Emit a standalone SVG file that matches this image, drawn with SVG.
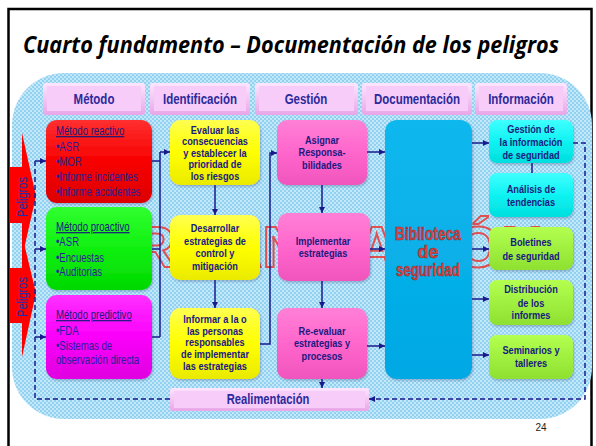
<svg xmlns="http://www.w3.org/2000/svg" width="596" height="446" viewBox="0 0 596 446">
<defs>
<pattern id="dots" width="4" height="4" patternUnits="userSpaceOnUse">
<rect width="4" height="4" fill="#92d2f0"/>
<rect x="0" y="0" width="2" height="2" fill="#c2e8f9"/>
<rect x="2" y="2" width="2" height="2" fill="#c2e8f9"/>
</pattern>
<linearGradient id="gHdr" x1="0" y1="0" x2="0" y2="1"><stop offset="0" stop-color="#fde6fd"/><stop offset="1" stop-color="#e8a6e8"/></linearGradient>
<linearGradient id="gRed" x1="0" y1="0" x2="0" y2="1"><stop offset="0" stop-color="#ff3030"/><stop offset="0.5" stop-color="#f80000"/><stop offset="1" stop-color="#dc0000"/></linearGradient>
<linearGradient id="gGrn" x1="0" y1="0" x2="0" y2="1"><stop offset="0" stop-color="#30ff30"/><stop offset="0.5" stop-color="#10f010"/><stop offset="1" stop-color="#00d800"/></linearGradient>
<linearGradient id="gMag" x1="0" y1="0" x2="0" y2="1"><stop offset="0" stop-color="#ff30ff"/><stop offset="0.5" stop-color="#fa00fa"/><stop offset="1" stop-color="#e000e0"/></linearGradient>
<linearGradient id="gYel" x1="0" y1="0" x2="0" y2="1"><stop offset="0" stop-color="#ffff50"/><stop offset="0.5" stop-color="#ffff00"/><stop offset="1" stop-color="#eaea00"/></linearGradient>
<linearGradient id="gPnk" x1="0" y1="0" x2="0" y2="1"><stop offset="0" stop-color="#ff80d6"/><stop offset="0.5" stop-color="#ff66cc"/><stop offset="1" stop-color="#f055bd"/></linearGradient>
<linearGradient id="gDoc" x1="0" y1="0" x2="0" y2="1"><stop offset="0" stop-color="#10b8ee"/><stop offset="1" stop-color="#00a8e4"/></linearGradient>
<linearGradient id="gCyn" x1="0" y1="0" x2="0" y2="1"><stop offset="0" stop-color="#40ffff"/><stop offset="0.5" stop-color="#10f2f2"/><stop offset="1" stop-color="#00dede"/></linearGradient>
<linearGradient id="gLim" x1="0" y1="0" x2="0" y2="1"><stop offset="0" stop-color="#b4ff50"/><stop offset="0.5" stop-color="#a0f040"/><stop offset="1" stop-color="#8ee030"/></linearGradient>
<marker id="ah" viewBox="0 0 6 6" refX="6" refY="3" markerWidth="6" markerHeight="6" markerUnits="userSpaceOnUse" orient="auto"><path d="M0,0 L6,3 L0,6 z" fill="#1a1a8c"/></marker>
<filter id="sh" x="-10%" y="-10%" width="120%" height="130%"><feDropShadow dx="1" dy="1.5" stdDeviation="1" flood-color="#336" flood-opacity="0.3"/></filter>
</defs>
<style>
text{font-family:'Liberation Sans',Arial,sans-serif}
.hdr rect.o{fill:url(#gHdr)}
.hdr rect.i{fill:#f8ccf8}
.hdr text{font-size:14px;font-weight:bold;fill:#2a2a9c;text-anchor:middle}
.lst text{font-size:12px;fill:#2a1f9a}
.lst text.u{text-decoration:underline;fill:#1a1a7a}
.ctr text{font-size:11.5px;font-weight:bold;fill:#1a1a80;text-anchor:middle}
.box{filter:url(#sh)}
.cn{fill:none;stroke:#1a1a8c;stroke-width:1.5}
.dn{fill:none;stroke:#1a1a8c;stroke-width:1.5;stroke-dasharray:5 3}
.pel{font-size:14px;fill:#2030b0;text-anchor:middle}
</style>
<rect x="0" y="0" width="596" height="446" fill="#ffffff"/>
<rect x="8.5" y="9" width="583" height="460" fill="none" stroke="#000" stroke-width="2.5"/>
<text x="23" y="53" style="font-family:'Open Sans','Liberation Sans',sans-serif" font-style="italic" font-weight="bold" font-size="23" textLength="536" lengthAdjust="spacingAndGlyphs" fill="#000">Cuarto fundamento – Documentación de los peligros</text>

<rect x="12" y="73" width="580" height="346" rx="52" ry="52" fill="url(#dots)"/>

<text x="88" y="267" font-size="58" font-weight="bold" fill="none" stroke="#e05050" stroke-width="2" textLength="455" lengthAdjust="spacingAndGlyphs">ORGANIZACIÓN</text>

<g id="peligros1"><polygon points="10,167 22,167 22,133 36,196 22,258 22,223 10,223" fill="#ff0000"/><text class="pel" transform="translate(27,197) rotate(-90)" x="0" y="0" textLength="40" lengthAdjust="spacingAndGlyphs">Peligros</text></g>
<g id="peligros2"><polygon points="10,268 22,268 22,235 36,293 22,357 22,323 10,323" fill="#ff0000"/><text class="pel" transform="translate(27,297) rotate(-90)" x="0" y="0" textLength="40" lengthAdjust="spacingAndGlyphs">Peligros</text></g>

<g id="h-metodo" class="hdr"><rect class="o" x="43" y="83" width="102" height="32" rx="3"/><rect class="i" x="47" y="86" width="94" height="25"/><text transform="translate(94,0) scale(0.82,1)" x="0" y="104.5">Método</text></g>
<g id="h-ident" class="hdr"><rect class="o" x="150" y="83" width="100" height="32" rx="3"/><rect class="i" x="154" y="86" width="92" height="25"/><text transform="translate(200,0) scale(0.82,1)" x="0" y="104.5">Identificación</text></g>
<g id="h-gestion" class="hdr"><rect class="o" x="255" y="83" width="103" height="32" rx="3"/><rect class="i" x="259" y="86" width="95" height="25"/><text transform="translate(306,0) scale(0.82,1)" x="0" y="104.5">Gestión</text></g>
<g id="h-doc" class="hdr"><rect class="o" x="362" y="83" width="110" height="32" rx="3"/><rect class="i" x="366" y="86" width="102" height="25"/><text transform="translate(417,0) scale(0.82,1)" x="0" y="104.5">Documentación</text></g>
<g id="h-info" class="hdr"><rect class="o" x="475" y="83" width="92" height="32" rx="3"/><rect class="i" x="479" y="86" width="84" height="25"/><text transform="translate(521,0) scale(0.82,1)" x="0" y="104.5">Información</text></g>

<g id="connectors">
<path class="cn" d="M152,161 H160 M152,249 H160 M152,337 H160 M160,337 V152"/>
<path class="cn" d="M160,152 H170" marker-end="url(#ah)"/>
<path class="cn" d="M215,185 V215" marker-end="url(#ah)"/>
<path class="cn" d="M215,280 V308" marker-end="url(#ah)"/>
<path class="cn" d="M260,344 H270 V153 H277" marker-end="url(#ah)"/>
<path class="cn" d="M322,185 V213" marker-end="url(#ah)"/>
<path class="cn" d="M322,281 V308" marker-end="url(#ah)"/>
<path class="cn" d="M322,379 V388" marker-end="url(#ah)"/>
<path class="cn" d="M367,152 H385" marker-end="url(#ah)"/>
<path class="cn" d="M370,249 H385" marker-end="url(#ah)"/>
<path class="cn" d="M367,346 H385" marker-end="url(#ah)"/>
<path class="cn" d="M472,143 H489" marker-end="url(#ah)"/>
<path class="cn" d="M472,249 H489" marker-end="url(#ah)"/>
<path class="cn" d="M472,299 H489" marker-end="url(#ah)"/>
<path class="cn" d="M472,355 H489" marker-end="url(#ah)"/>
<path class="cn" d="M532,163 V173"/>
<path class="dn" d="M573,143 H585 V399 H369" marker-end="url(#ah)"/>
<path class="dn" d="M170,399 H35 V161"/>
<path class="dn" d="M35,161 H46" marker-end="url(#ah)"/>
<path class="dn" d="M35,249 H46" marker-end="url(#ah)"/>
<path class="dn" d="M35,337 H46" marker-end="url(#ah)"/>
</g>

<g id="reactivo" class="lst"><rect class="box" x="46" y="120" width="106" height="83" rx="11" fill="url(#gRed)"/>
<g transform="translate(56,0) scale(0.8,1)"><text class="u" x="0" y="135">Método reactivo</text><text x="0" y="151">•ASR</text><text x="0" y="166">•MOR</text><text x="0" y="181.5">•Informe incidentes</text><text x="0" y="196.5">•Informe accidentes</text></g></g>
<g id="proactivo" class="lst"><rect class="box" x="46" y="207" width="106" height="83" rx="11" fill="url(#gGrn)"/>
<g transform="translate(56,0) scale(0.8,1)"><text class="u" x="0" y="231">Método proactivo</text><text x="0" y="246.5">•ASR</text><text x="0" y="262">•Encuestas</text><text x="0" y="276.5">•Auditorias</text></g></g>
<g id="predictivo" class="lst"><rect class="box" x="46" y="295" width="106" height="84" rx="11" fill="url(#gMag)"/>
<g transform="translate(56,0) scale(0.8,1)"><text class="u" x="0" y="319">Método predictivo</text><text x="0" y="335">•FDA</text><text x="0" y="350">•Sistemas de</text><text x="0" y="364">observación directa</text></g></g>

<g id="evaluar" class="ctr"><rect class="box" x="170" y="120" width="90" height="65" rx="10" fill="url(#gYel)"/>
<g transform="translate(215,0) scale(0.8,1)"><text x="0" y="134">Evaluar las</text><text x="0" y="145.5">consecuencias</text><text x="0" y="157">y establecer la</text><text x="0" y="168.5">prioridad de</text><text x="0" y="180">los riesgos</text></g></g>
<g id="desarrollar" class="ctr"><rect class="box" x="170" y="215" width="90" height="65" rx="10" fill="url(#gYel)"/>
<g transform="translate(215,0) scale(0.8,1)"><text x="0" y="232.5">Desarrollar</text><text x="0" y="245">estrategias de</text><text x="0" y="257.5">control y</text><text x="0" y="270">mitigación</text></g></g>
<g id="informar" class="ctr"><rect class="box" x="170" y="308" width="90" height="71" rx="10" fill="url(#gYel)"/>
<g transform="translate(215,0) scale(0.8,1)"><text x="0" y="323">Informar a la o</text><text x="0" y="334.7">las personas</text><text x="0" y="346.4">responsables</text><text x="0" y="358">de implementar</text><text x="0" y="369.7">las estrategias</text></g></g>

<g id="asignar" class="ctr"><rect class="box" x="277" y="120" width="90" height="65" rx="10" fill="url(#gPnk)"/>
<g transform="translate(322,0) scale(0.8,1)"><text x="0" y="144">Asignar</text><text x="0" y="156.5">Responsa-</text><text x="0" y="169">bilidades</text></g></g>
<g id="implementar" class="ctr"><rect class="box" x="278" y="213" width="92" height="68" rx="10" fill="url(#gPnk)"/>
<g transform="translate(323,0) scale(0.8,1)"><text x="0" y="245">Implementar</text><text x="0" y="257.5">estrategias</text></g></g>
<g id="reevaluar" class="ctr"><rect class="box" x="277" y="308" width="90" height="71" rx="10" fill="url(#gPnk)"/>
<g transform="translate(322,0) scale(0.8,1)"><text x="0" y="335">Re-evaluar</text><text x="0" y="347.5">estrategias y</text><text x="0" y="360">procesos</text></g></g>

<g id="biblioteca"><rect class="box" x="385" y="120" width="87" height="259" rx="12" fill="url(#gDoc)"/>
<g font-size="18" font-weight="bold" fill="#e04848" stroke="#8a2a2a" stroke-width="0.6" text-anchor="middle">
<text x="428" y="240" textLength="66" lengthAdjust="spacingAndGlyphs">Biblioteca</text><text x="428" y="258">de</text><text x="428" y="276" textLength="64" lengthAdjust="spacingAndGlyphs">seguridad</text></g></g>

<g id="gestion-info" class="ctr"><rect class="box" x="489" y="120" width="84" height="43" rx="8" fill="url(#gCyn)"/>
<g transform="translate(531,0) scale(0.8,1)"><text x="0" y="133">Gestión de</text><text x="0" y="146">la información</text><text x="0" y="159">de seguridad</text></g></g>
<g id="analisis" class="ctr"><rect class="box" x="489" y="173" width="84" height="44" rx="8" fill="url(#gCyn)"/>
<g transform="translate(531,0) scale(0.8,1)"><text x="0" y="193">Análisis de</text><text x="0" y="206.5">tendencias</text></g></g>
<g id="boletines" class="ctr"><rect class="box" x="489" y="227" width="84" height="43" rx="8" fill="url(#gLim)"/>
<g transform="translate(531,0) scale(0.8,1)"><text x="0" y="246.5">Boletines</text><text x="0" y="260">de seguridad</text></g></g>
<g id="distribucion" class="ctr"><rect class="box" x="489" y="280" width="84" height="45" rx="8" fill="url(#gLim)"/>
<g transform="translate(531,0) scale(0.8,1)"><text x="0" y="293.3">Distribución</text><text x="0" y="306.7">de los</text><text x="0" y="319.3">informes</text></g></g>
<g id="seminarios" class="ctr"><rect class="box" x="489" y="335" width="84" height="44" rx="8" fill="url(#gLim)"/>
<g transform="translate(531,0) scale(0.8,1)"><text x="0" y="354.3">Seminarios y</text><text x="0" y="367.3">talleres</text></g></g>

<g id="realimentacion" class="hdr"><rect class="o" x="170" y="388" width="199" height="23" rx="2"/><rect class="i" x="174" y="391" width="191" height="17"/><text transform="translate(268,0) scale(0.8,1)" x="0" y="404">Realimentación</text></g>

<text x="541" y="431" font-size="10" fill="#222" text-anchor="middle">24</text>
</svg>
